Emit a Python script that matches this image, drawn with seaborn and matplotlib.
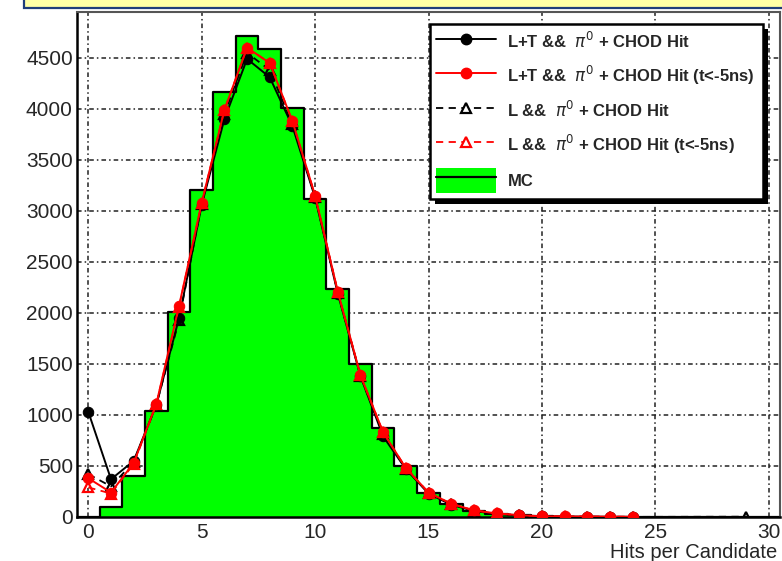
import numpy as np
import pandas as pd
import matplotlib
matplotlib.use("Agg")
import matplotlib.pyplot as plt
from matplotlib.lines import Line2D
from matplotlib.patches import Patch, Rectangle
from matplotlib.legend_handler import HandlerTuple
from matplotlib.ticker import MultipleLocator
import seaborn as sns

# ---- data -------------------------------------------------------------
hits = list(range(0, 25))

# L+T && pi0 + CHOD Hit
lt_chod = [1030, 370, 550, 1100, 1950, 3060, 3900, 4490, 4310, 3830, 3130,
           2190, 1380, 790, 470, 230, 120, 60, 30, 15, 6, 4, 3, 2, 1]
# L+T && pi0 + CHOD Hit (t<-5ns)
lt_chod_t5 = [380, 240, 530, 1110, 2070, 3080, 3990, 4600, 4450, 3880, 3150,
              2210, 1390, 830, 480, 240, 130, 65, 35, 18, 7, 5, 4, 3, 2]
# L && pi0 + CHOD Hit
l_hits = list(range(0, 25)) + [29]
l_chod = [420, 300, 540, 1100, 1930, 3070, 3950, 4550, 4380, 3850, 3140,
          2200, 1385, 810, 475, 235, 125, 62, 32, 16, 6, 4, 3, 2, 1, 3]
# L && pi0 + CHOD Hit (t<-5ns)
l_chod_t5 = [290, 230, 520, 1105, 2060, 3080, 3990, 4600, 4450, 3880, 3150,
             2210, 1390, 830, 480, 240, 130, 65, 35, 18, 7, 5, 4, 3, 2]

# MC histogram, one bin per hit count (0 .. 30)
mc_bins = list(range(0, 31))
mc_counts = [0, 95, 400, 1040, 2005, 3205, 4165, 4715, 4590, 4010, 3120,
             2230, 1495, 870, 500, 235, 125, 60, 30, 15, 8, 4, 2, 1, 1,
             0, 0, 0, 0, 0, 0]

labels = [r"L+T &&  $\pi^{0}$ + CHOD Hit",
          r"L+T &&  $\pi^{0}$ + CHOD Hit (t<-5ns)",
          r"L &&  $\pi^{0}$ + CHOD Hit",
          r"L &&  $\pi^{0}$ + CHOD Hit (t<-5ns)",
          "MC"]

# ---- style -------------------------------------------------------------
sns.set_style("white")
plt.rcParams["font.family"] = ["Liberation Sans", "DejaVu Sans"]
plt.rcParams["mathtext.fontset"] = "dejavusans"

GREEN = "#00ff00"
RED = "#ff0000"

fig = plt.figure(figsize=(7.82, 5.61), dpi=100)
ax = fig.add_axes([77 / 782, 44 / 561, 703 / 782, 505 / 561])

# ---- MC histogram --------------------------------------------------------
mc = pd.DataFrame({"hits": mc_bins, "count": mc_counts})
edges = [b - 0.5 for b in mc_bins] + [mc_bins[-1] + 0.5]
sns.histplot(data=mc, x="hits", weights="count", bins=edges, element="step",
             fill=True, color=GREEN, alpha=1.0, linewidth=0, ax=ax, zorder=1)
sns.histplot(data=mc, x="hits", weights="count", bins=edges, element="step",
             fill=False, color="black", linewidth=1.6, ax=ax, zorder=1.2)

# ---- graphs -------------------------------------------------------------
dash = (0, (4, 3))
sns.lineplot(x=hits, y=lt_chod, ax=ax, color="black", lw=1.4,
             marker="o", markersize=7.5, markeredgecolor="black", zorder=3)
sns.lineplot(x=l_hits, y=l_chod, ax=ax, color="black", lw=1.3,
             linestyle=dash, marker="^", markersize=7.5,
             markerfacecolor="none", markeredgecolor="black",
             markeredgewidth=1.6, zorder=3.1)
sns.lineplot(x=hits, y=lt_chod_t5, ax=ax, color=RED, lw=1.4,
             marker="o", markersize=7.5, markeredgecolor=RED, zorder=3.2)
sns.lineplot(x=hits, y=l_chod_t5, ax=ax, color=RED, lw=1.3,
             linestyle=dash, marker="^", markersize=7.5,
             markerfacecolor="none", markeredgecolor=RED,
             markeredgewidth=1.6, zorder=3.3)

# ---- axes ---------------------------------------------------------------
ax.set_xlim(-0.5, 30.5)
ax.set_ylim(0, 4950)
ax.xaxis.set_major_locator(MultipleLocator(5))
ax.xaxis.set_minor_locator(MultipleLocator(1))
ax.yaxis.set_major_locator(MultipleLocator(500))
ax.yaxis.set_minor_locator(MultipleLocator(100))

ax.tick_params(axis="x", which="major", direction="in", length=11, width=1.3,
               labelsize=15, pad=4, top=False)
ax.tick_params(axis="x", which="minor", direction="in", length=5.5, width=1.2,
               top=False)
ax.tick_params(axis="y", which="major", direction="in", length=11, width=1.3,
               labelsize=15, pad=3, right=False)
ax.tick_params(axis="y", which="minor", direction="in", length=7, width=1.2,
               right=False)

for side in ["left", "bottom"]:
    ax.spines[side].set_linewidth(1.8)
    ax.spines[side].set_color("black")
for side in ["top", "right"]:
    ax.spines[side].set_linewidth(1.5)
    ax.spines[side].set_color("#555555")

# dash-dot grid behind the histogram
grid_style = dict(color="#222222", lw=1.1, linestyle=(0, (3, 2, 1, 2)), zorder=0.2)
for yv in ax.get_yticks():
    if 0 < yv < 4950:
        ax.axhline(yv, **grid_style)
for xv in ax.get_xticks():
    if -0.5 < xv < 30.5:
        ax.axvline(xv, **grid_style)

ax.set_ylabel("")
ax.set_xlabel("Hits per Candidate", fontsize=14.5)
ax.xaxis.set_label_coords(0.9957, -0.052)
ax.xaxis.label.set_ha("right")
ax.xaxis.label.set_va("top")

# ---- legend -------------------------------------------------------------
handles = [
    Line2D([], [], color="black", lw=1.4, marker="o", markersize=7.5),
    Line2D([], [], color=RED, lw=1.4, marker="o", markersize=7.5),
    Line2D([], [], color="black", lw=1.3, linestyle=dash, marker="^",
           markersize=7.5, markerfacecolor="white", markeredgewidth=1.6),
    Line2D([], [], color=RED, lw=1.3, linestyle=dash, marker="^",
           markersize=7.5, markerfacecolor="white", markeredgecolor=RED,
           markeredgewidth=1.6),
    (Patch(facecolor=GREEN, edgecolor="none"),
     Line2D([], [], color="black", lw=1.6)),
]
leg = ax.legend(handles, labels, loc="upper left",
                bbox_to_anchor=(0.502, 0.4, 0.474, 0.576), mode="expand",
                borderaxespad=0, frameon=True, fancybox=False,
                prop={"weight": "bold", "size": 12},
                handlelength=3.6, handletextpad=0.7, handleheight=1.95,
                labelspacing=0.55, borderpad=0.35,
                handler_map={tuple: HandlerTuple(ndivide=1, pad=0)})
leg.get_frame().set_edgecolor("black")
leg.get_frame().set_linewidth(1.8)
leg.get_frame().set_alpha(1.0)
leg.set_zorder(10)

# ---- title bar strip at the top -----------------------------------------
fig.patches.append(Rectangle((24 / 782, 1 - 8 / 561), 1.0, 0.1,
                             transform=fig.transFigure, facecolor="#ffffa6",
                             edgecolor="#1f3d7a", linewidth=1.6))

# drop shadow of the legend box
fig.canvas.draw()
bb = leg.get_window_extent()
off = 5
shadow = Rectangle(((bb.x0 + off) / fig.bbox.width, (bb.y0 - off) / fig.bbox.height),
                   bb.width / fig.bbox.width, bb.height / fig.bbox.height,
                   transform=fig.transFigure, facecolor="black",
                   edgecolor="none", zorder=9.5, clip_on=False)
ax.add_patch(shadow)

fig.savefig("out.png", dpi=100)
